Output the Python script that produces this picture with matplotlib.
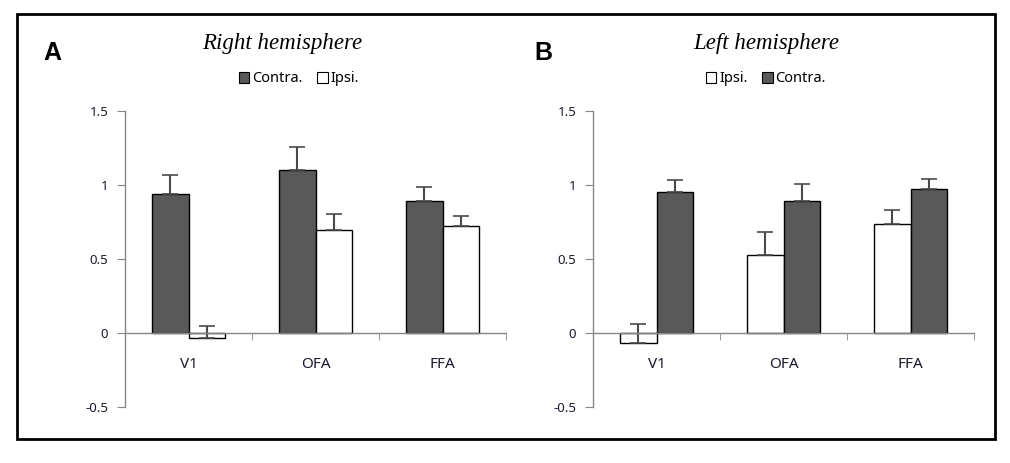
import matplotlib
matplotlib.use("Agg")
import matplotlib.pyplot as plt
import numpy as np
from matplotlib.patches import Patch, Rectangle

categories = ["V1", "OFA", "FFA"]

# Right hemisphere (panel A)
right_contra = [0.94, 1.10, 0.89]
right_contra_err = [0.13, 0.155, 0.095]
right_ipsi = [-0.036, 0.694, 0.721]
right_ipsi_err = [0.08, 0.112, 0.068]

# Left hemisphere (panel B)
left_ipsi = [-0.07, 0.525, 0.734]
left_ipsi_err = [0.128, 0.155, 0.095]
left_contra = [0.951, 0.89, 0.971]
left_contra_err = [0.08, 0.115, 0.068]

yticks = [-0.5, 0, 0.5, 1, 1.5]
ytick_labels = ["-0.5", "0", "0.5", "1", "1.5"]

DARK = "#595959"
AXC = "#868686"
TXT = "#1a1a2e"

fig = plt.figure(figsize=(10.10, 4.63), dpi=100)
fig.patch.set_facecolor("white")

# outer frame
fig.patches.append(Rectangle((17/1010, 1 - 439/463), (995-17)/1010, (439-14)/463,
                             transform=fig.transFigure, fill=False, edgecolor="black",
                             linewidth=2.0, zorder=10))


def panel(left_px, series, labels, title, letter, letter_xy, title_x, legend_x):
    ax = fig.add_axes([left_px/1010, (463-407)/463, 381/1010, 296/463])
    x = np.arange(len(categories))
    w = 0.291
    offs = [-w/2, w/2]
    for (vals, errs, color), off in zip(series, offs):
        ax.bar(x + off, vals, width=w, color=color, edgecolor="black", linewidth=1.0, zorder=2)
        ax.errorbar(x + off, vals, yerr=[np.zeros(len(vals)), errs], fmt="none",
                    ecolor="#4a4a4a", elinewidth=1.5, capsize=6, capthick=1.2, zorder=3)
    ax.set_xlim(-0.5, 2.5)
    ax.set_ylim(-0.5, 1.5)
    for s in ["top", "right"]:
        ax.spines[s].set_visible(False)
    ax.spines["left"].set_color(AXC)
    ax.spines["left"].set_linewidth(1.0)
    ax.spines["bottom"].set_position(("data", 0))
    ax.spines["bottom"].set_color(AXC)
    ax.spines["bottom"].set_linewidth(1.0)
    ax.spines["bottom"].set_zorder(4)
    ax.set_yticks(yticks)
    ax.set_yticklabels(ytick_labels)
    ax.tick_params(axis="y", direction="out", length=6, color=AXC, pad=6,
                   labelsize=9.5, labelcolor=TXT)
    ax.set_xticks(x)
    ax.set_xticklabels(categories)
    ax.tick_params(axis="x", which="major", length=0, pad=17, labelsize=11, labelcolor=TXT)
    ax.set_xticks([0.5, 1.5, 2.5], minor=True)
    ax.tick_params(axis="x", which="minor", direction="out", length=5, color=AXC)
    for lab in ax.get_xticklabels() + ax.get_yticklabels():
        lab.set_family("Noto Sans")
    fig.text(title_x/1010, 1 - 44/463, title, ha="center", va="center",
             family="Liberation Serif", style="italic", fontsize=16.5)
    fig.text(letter_xy[0]/1010, 1 - letter_xy[1]/463, letter, ha="center", va="center",
             family="Liberation Sans", weight="bold", fontsize=18)
    handles = [Patch(facecolor=c, edgecolor="black", linewidth=0.8) for (_, _, c) in series]
    fig.legend(handles, labels, loc="center",
               bbox_to_anchor=(legend_x/1010, 1 - 79/463), ncol=2, frameon=False,
               handlelength=0.7, handleheight=0.7, handletextpad=0.2,
               columnspacing=1.0, prop={"family": "Noto Sans", "size": 10.5})
    return ax


panel(125, [(right_contra, right_contra_err, DARK), (right_ipsi, right_ipsi_err, "white")],
      ["Contra.", "Ipsi."], "Right hemisphere", "A", (52, 53), 282, 299)
panel(593, [(left_ipsi, left_ipsi_err, "white"), (left_contra, left_contra_err, DARK)],
      ["Ipsi.", "Contra."], "Left hemisphere", "B", (543, 53), 766, 766)

fig.savefig("out.png", dpi=100)
